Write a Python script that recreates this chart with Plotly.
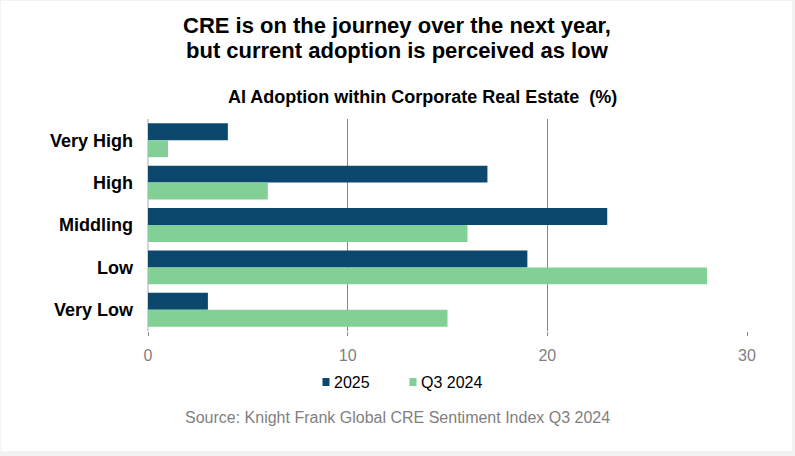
import plotly.graph_objects as go

categories = ["Very High", "High", "Middling", "Low", "Very Low"]
values_2025 = [4, 17, 23, 19, 3]
values_q3_2024 = [1, 6, 16, 28, 15]
series_names = ["2025", "Q3 2024"]
tick_values = [0, 10, 20, 30]

title_line1 = "CRE is on the journey over the next year,"
title_line2 = "but current adoption is perceived as low"
subtitle = "AI Adoption within Corporate Real Estate  (%)"
source = "Source: Knight Frank Global CRE Sentiment Index Q3 2024"

DARK = "#0C486E"
GREEN = "#82D096"
FONT = "Liberation Sans, Arial, sans-serif"

# plot area in pixels
L, R, T, B = 148, 47, 119, 125
W, H = 795, 456
PW, PH = W - L - R, H - T - B


def px(x):
    return (x - L) / PW


def py(y):
    return (H - B - y) / PH


fig = go.Figure()
fig.add_trace(go.Bar(y=categories, x=values_2025, name=series_names[0],
                     orientation="h", marker=dict(color=DARK, line=dict(width=0))))
fig.add_trace(go.Bar(y=categories, x=values_q3_2024, name=series_names[1],
                     orientation="h", marker=dict(color=GREEN, line=dict(width=0))))

# legend drawn compactly (swatch + label), like the original
legend_items = [(series_names[0], DARK, 322.5, 333), (series_names[1], GREEN, 409.5, 420)]
legend_shapes = []
legend_annots = []
for name, color, sx, tx in legend_items:
    legend_shapes.append(dict(type="rect", xref="paper", yref="paper", layer="above",
                              x0=px(sx), x1=px(sx + 7), y0=py(386), y1=py(378),
                              fillcolor=color, line=dict(width=0)))
    legend_annots.append(dict(text=name, xref="paper", yref="paper",
                              x=px(tx - 1), y=py(382), xanchor="left", yanchor="middle",
                              showarrow=False, font=dict(size=16, color="#000000")))

fig.update_layout(
    width=W, height=H,
    margin=dict(l=L, r=R, t=T, b=B, pad=0, autoexpand=False),
    paper_bgcolor="#f2f2f2",
    plot_bgcolor="rgba(0,0,0,0)",
    barmode="group", bargap=0.2, bargroupgap=0,
    font=dict(family=FONT, color="#000000"),
    showlegend=False,
    xaxis=dict(range=[0, 30.05], tickvals=tick_values, showgrid=True,
               gridcolor="#878787", gridwidth=1,
               zeroline=True, zerolinecolor="#d4d4d4", zerolinewidth=2,
               showline=False, ticks="outside", ticklen=4, tickcolor="#878787",
               tickfont=dict(size=16, color="#7f7f7f"), ticklabelstandoff=6,
               automargin=False),
    yaxis=dict(autorange="reversed", showgrid=False, zeroline=False, showline=False,
               ticks="", tickfont=dict(size=18, color="#000000", family=FONT, weight="bold"),
               ticklabelstandoff=14, automargin=False),
    shapes=[dict(type="rect", xref="paper", yref="paper", layer="below",
                 x0=px(1), x1=px(792), y0=py(451), y1=py(1),
                 fillcolor="#ffffff", line=dict(width=0))] + legend_shapes,
    annotations=[
        dict(text="<b>" + title_line1 + "</b>", xref="paper", yref="paper",
             x=px(397), y=py(25), xanchor="center", yanchor="middle", showarrow=False,
             font=dict(size=22, color="#000000")),
        dict(text="<b>" + title_line2 + "</b>", xref="paper", yref="paper",
             x=px(397), y=py(50), xanchor="center", yanchor="middle", showarrow=False,
             font=dict(size=22, color="#000000")),
        dict(text="<b>" + subtitle + "</b>", xref="paper", yref="paper",
             x=px(422), y=py(97), xanchor="center", yanchor="middle", showarrow=False,
             font=dict(size=18, color="#000000")),
        dict(text=source, xref="paper", yref="paper",
             x=px(397), y=py(417), xanchor="center", yanchor="middle", showarrow=False,
             font=dict(size=16, color="#7f7f7f")),
    ] + legend_annots,
)

fig.write_html("out.html", config={"displayModeBar": False},
               post_script="document.body.style.margin='0';document.body.style.overflow='hidden';")
